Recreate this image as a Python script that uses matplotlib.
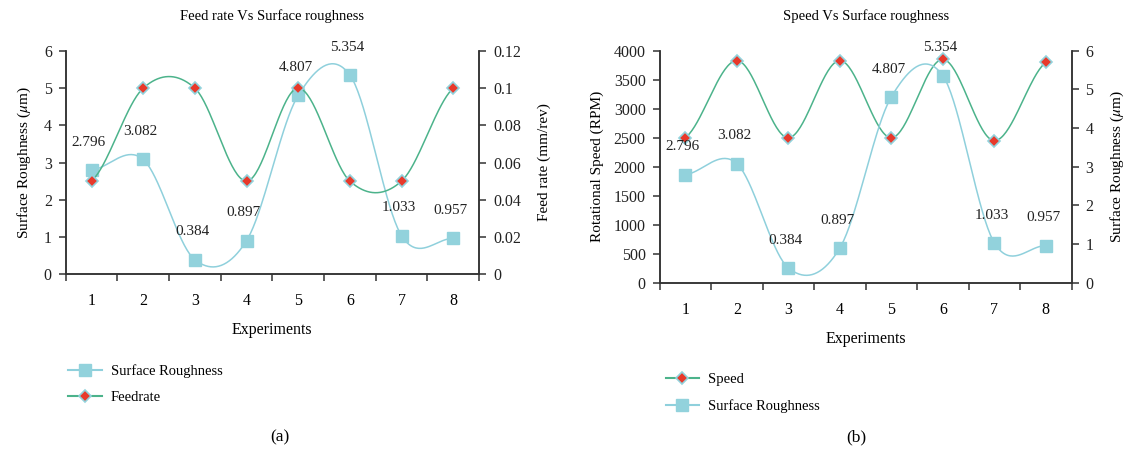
import numpy as np
import matplotlib
matplotlib.use('Agg')
import matplotlib.pyplot as plt
from matplotlib.lines import Line2D

plt.rcParams['font.family'] = ['Liberation Serif', 'DejaVu Serif']
plt.rcParams['mathtext.fontset'] = 'stix'

experiments = [1, 2, 3, 4, 5, 6, 7, 8]
roughness = [2.796, 3.082, 0.384, 0.897, 4.807, 5.354, 1.033, 0.957]
feedrate = [0.05, 0.1, 0.1, 0.05, 0.1, 0.05, 0.05, 0.1]
speed = [2500, 3830, 2500, 3830, 2500, 3850, 2450, 3800]

cyan = '#92d2dc'
cyan_line = '#8fd0dc'
green = '#4cb38b'
red = '#e8392b'
dark = '#333333'


def smooth(x, y, n=40):
    # catmull-rom like excel's smoothed line
    x = np.asarray(x, float)
    y = np.asarray(y, float)
    m = np.zeros_like(y)
    m[1:-1] = (y[2:] - y[:-2]) / 2
    m[0] = (y[1] - y[0]) / 2
    m[-1] = (y[-1] - y[-2]) / 2
    xs, ys = [], []
    for i in range(len(x) - 1):
        t = np.linspace(0, 1, n)
        h00 = 2 * t**3 - 3 * t**2 + 1
        h10 = t**3 - 2 * t**2 + t
        h01 = -2 * t**3 + 3 * t**2
        h11 = t**3 - t**2
        xs.append(x[i] + t * (x[i + 1] - x[i]))
        ys.append(h00 * y[i] + h10 * m[i] + h01 * y[i + 1] + h11 * m[i + 1])
    return np.concatenate(xs), np.concatenate(ys)


def style_axis(ax):
    for s in ax.spines.values():
        s.set_color(dark)
        s.set_linewidth(1.1)
    ax.spines['top'].set_visible(False)
    ax.tick_params(direction='out', length=5, width=1.1, color=dark,
                   labelsize=11.5, labelcolor='#222222', pad=5)


def square_series(ax, y):
    sx, sy = smooth(experiments, y)
    ax.plot(sx, sy, color=cyan_line, lw=1.1, zorder=2)
    ax.plot(experiments, y, ls='none', marker='s', ms=8.5, color=cyan,
            mec=cyan, zorder=3)
    for xi, yi in zip(experiments, y):
        ax.annotate(f'{yi:.3f}', (xi, yi), xytext=(-2, 20),
                    textcoords='offset points', ha='center', va='center',
                    fontsize=11, color='#222222')


def diamond_series(ax, y):
    sx, sy = smooth(experiments, y)
    ax.plot(sx, sy, color=green, lw=1.1, zorder=2)
    ax.plot(experiments, y, ls='none', marker='D', ms=6.5, color=red,
            mec=cyan, mew=1.2, zorder=4)


def set_x(ax):
    ax.set_xlim(0.5, 8.5)
    ax.set_xticks(np.arange(0.5, 9, 1))
    ax.set_xticklabels([])
    ax.set_xticks(experiments, minor=True)
    ax.set_xticklabels([str(e) for e in experiments], minor=True)
    ax.tick_params(axis='x', which='minor', length=0, pad=14, labelsize=11.5)


fig = plt.figure(figsize=(11.25, 4.53), dpi=100)

sr_handle = Line2D([], [], color=cyan_line, lw=1.5, marker='s', ms=8.5,
                   mfc=cyan, mec=cyan)
fd_handle = Line2D([], [], color=green, lw=1.5, marker='D', ms=6.5,
                   mfc=red, mec=cyan, mew=1.2)

# (a) feed rate vs surface roughness
ax1 = fig.add_axes([0.0584, 0.3951, 0.3674, 0.4923])
ax1b = ax1.twinx()
square_series(ax1, roughness)
diamond_series(ax1b, feedrate)
ax1.set_ylim(0, 6)
ax1.set_yticks(range(0, 7))
ax1b.set_ylim(0, 0.12)
ax1b.set_yticks([0, 0.02, 0.04, 0.06, 0.08, 0.1, 0.12])
ax1b.set_yticklabels(['0', '0.02', '0.04', '0.06', '0.08', '0.1', '0.12'])
for a in (ax1, ax1b):
    style_axis(a)
set_x(ax1)
ax1.set_title('Feed rate Vs Surface roughness', fontsize=10.5, pad=22)
ax1.set_xlabel('Experiments', fontsize=11.5, labelpad=9)
ax1.set_ylabel(r'Surface Roughness ($\mu$m)', fontsize=11, labelpad=8)
ax1b.set_ylabel('Feed rate (mm/rev)', fontsize=11, labelpad=12)
fig.legend([sr_handle, fd_handle], ['Surface Roughness', 'Feedrate'],
           loc='upper left', bbox_to_anchor=(0.049, 0.225), frameon=False,
           fontsize=10.5, handlelength=2.3, labelspacing=0.9, handletextpad=0.6)
fig.text(0.249, 0.035, '(a)', ha='center', va='center', fontsize=12.5)

# (b) speed vs surface roughness
ax2 = fig.add_axes([0.5863, 0.3759, 0.3662, 0.5121])
ax2b = ax2.twinx()
diamond_series(ax2, speed)
square_series(ax2b, roughness)
ax2.set_ylim(0, 4000)
ax2.set_yticks(range(0, 4001, 500))
ax2b.set_ylim(0, 6)
ax2b.set_yticks(range(0, 7))
for a in (ax2, ax2b):
    style_axis(a)
set_x(ax2)
ax2.set_title('Speed Vs Surface roughness', fontsize=10.5, pad=22)
ax2.set_xlabel('Experiments', fontsize=11.5, labelpad=9)
ax2.set_ylabel('Rotational Speed (RPM)', fontsize=11, labelpad=7)
ax2b.set_ylabel(r'Surface Roughness ($\mu$m)', fontsize=11, labelpad=11)
fig.legend([fd_handle, sr_handle], ['Speed', 'Surface Roughness'],
           loc='upper left', bbox_to_anchor=(0.580, 0.205), frameon=False,
           fontsize=10.5, handlelength=2.3, labelspacing=0.9, handletextpad=0.6)
fig.text(0.761, 0.035, '(b)', ha='center', va='center', fontsize=12.5)

fig.savefig('out.png', dpi=100)
